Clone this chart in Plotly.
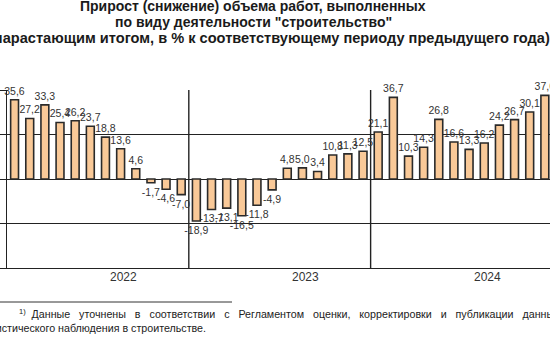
import plotly.graph_objects as go

years = ["2022", "2023", "2024"]
values_2022 = [35.6, 27.2, 33.3, 25.4, 26.2, 23.7, 18.8, 13.6, 4.6, -1.7, -4.6, -7.0]
values_2023 = [-18.9, -13.7, -13.1, -16.5, -11.8, -4.9, 4.8, 5.0, 3.4, 10.8, 11.3, 12.5]
values_2024 = [21.1, 36.7, 10.3, 14.3, 26.8, 16.6, 13.3, 16.2, 24.2, 26.7, 30.1, 37.6]

values = values_2022 + values_2023 + values_2024
xs = list(range(len(values)))
labels = [f"{v:.1f}".replace(".", ",") for v in values]

title_lines = [
    "Прирост (снижение) объема работ, выполненных",
    "по виду деятельности \"строительство\"",
    "(нарастающим итогом, в % к соответствующему периоду предыдущего года)",
]
foot_words = ["Данные", "уточнены", "в", "соответствии", "с", "Регламентом",
              "оценки,", "корректировки", "и", "публикации", "данных"]
foot2 = "статистического наблюдения в строительстве."

# plot area in pixels
L, T, W, H = 7, 90, 543, 178
def px(x):
    return (x - L) / W
def py(y):
    return (T + H - y) / H

FONT = "Arial, Liberation Sans, sans-serif"

fig = go.Figure()
fig.add_trace(go.Bar(
    x=xs, y=values, width=0.52,
    marker=dict(color="#F9C998", line=dict(color="#2a2a2a", width=1.6)),
    text=labels, textposition="outside", cliponaxis=False, constraintext="none",
    textfont=dict(family=FONT, size=10.5, color="#333333"),
    hoverinfo="skip",
))

# year dividers
for k in range(1, len(years)):
    fig.add_shape(type="line", xref="x", yref="y", x0=12 * k - 0.5, x1=12 * k - 0.5,
                  y0=-40, y1=40, line=dict(color="#222222", width=1.4), layer="below")

# year labels
for k, yr in enumerate(years):
    fig.add_annotation(x=12 * k + 7.2, y=py(277), xref="x", yref="paper", yanchor="middle",
                       text=yr, showarrow=False,
                       font=dict(family=FONT, size=12, color="#333333"))

# title
fig.add_annotation(x=px(253), y=py(6), xref="paper", yref="paper", xanchor="center", yanchor="middle",
                   text="<b>" + title_lines[0] + "</b>", showarrow=False,
                   font=dict(family=FONT, size=14, color="#1a1a1a"))
fig.add_annotation(x=px(253), y=py(22), xref="paper", yref="paper", xanchor="center", yanchor="middle",
                   text="<b>" + title_lines[1] + "</b>", showarrow=False,
                   font=dict(family=FONT, size=14, color="#1a1a1a"))
fig.add_annotation(x=px(552), y=py(38), xref="paper", yref="paper", xanchor="right", yanchor="middle",
                   text="<b>" + title_lines[2] + "</b>", showarrow=False,
                   font=dict(family=FONT, size=14.6, color="#1a1a1a"))

# footnote
fig.add_shape(type="line", xref="paper", yref="paper", x0=px(0), x1=px(232),
              y0=py(302), y1=py(302), line=dict(color="#333333", width=1))
gap = "\u00a0" * 3
foot1 = "<sup>1)</sup>" + "\u00a0" * 2 + gap.join(foot_words)
fig.add_annotation(x=px(17), y=py(313), xref="paper", yref="paper", xanchor="left", yanchor="middle",
                   text=foot1, showarrow=False,
                   font=dict(family=FONT, size=10.7, color="#222222"))
fig.add_annotation(x=px(-27), y=py(328), xref="paper", yref="paper", xanchor="left", yanchor="middle",
                   text=foot2, showarrow=False,
                   font=dict(family=FONT, size=10.7, color="#222222"))

fig.update_layout(
    width=550, height=343,
    margin=dict(l=L, r=0, t=T, b=343 - T - H, autoexpand=False),
    paper_bgcolor="white", plot_bgcolor="white",
    showlegend=False,
    xaxis=dict(range=[-0.5, 35.34], showticklabels=False, showgrid=False, zeroline=False,
               showline=True, linecolor="#222222", linewidth=1.4, ticks=""),
    yaxis=dict(range=[-40, 40], tickvals=[-40, -20, 0, 20, 40], showticklabels=False,
               showgrid=True, gridcolor="#222222", gridwidth=1.3, zeroline=False,
               showline=True, linecolor="#222222", linewidth=1.4,
               ticks="outside", ticklen=6, tickcolor="#222222", tickwidth=1.3),
)

fig.write_html("out.html")
